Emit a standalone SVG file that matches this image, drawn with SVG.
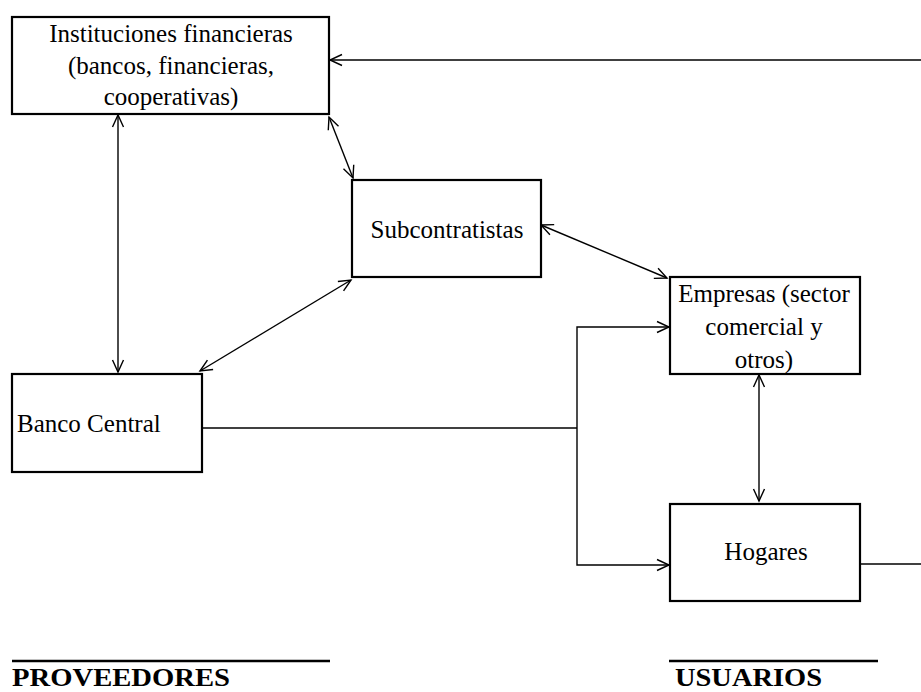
<svg xmlns="http://www.w3.org/2000/svg" width="921" height="692" viewBox="0 0 921 692">
<style>
.box{fill:#fff;stroke:#000;stroke-width:2.2}
.t{font-family:"Liberation Serif",serif;font-size:25px;fill:#000}
.c{text-anchor:middle}
.b{font-family:"Liberation Serif",serif;font-weight:bold;font-size:25px;fill:#000}
.ln{fill:none;stroke:#000;stroke-width:1.4}
.rule{stroke:#000;stroke-width:2.4}
</style>
<defs>
<marker id="ah" viewBox="-14 -7 16 14" refX="0" refY="0" markerWidth="16" markerHeight="14" markerUnits="userSpaceOnUse" orient="auto-start-reverse">
<path d="M-12,-5.5 L0,0 L-12,5.5" fill="none" stroke="#000" stroke-width="1.4"/>
</marker>
</defs>
<g id="connectors">
<line class="ln" x1="921" y1="60" x2="330" y2="60" marker-end="url(#ah)"/>
<line class="ln" x1="118" y1="115" x2="118" y2="372" marker-start="url(#ah)" marker-end="url(#ah)"/>
<line class="ln" x1="329" y1="117" x2="353" y2="178" marker-start="url(#ah)" marker-end="url(#ah)"/>
<line class="ln" x1="541" y1="225" x2="667" y2="278" marker-start="url(#ah)" marker-end="url(#ah)"/>
<line class="ln" x1="200" y1="371" x2="351" y2="280" marker-start="url(#ah)" marker-end="url(#ah)"/>
<polyline class="ln" points="202,428 577,428"/>
<polyline class="ln" points="669,327 577,327 577,565 669,565" marker-start="url(#ah)" marker-end="url(#ah)"/>
<line class="ln" x1="759" y1="375" x2="759" y2="501" marker-start="url(#ah)" marker-end="url(#ah)"/>
<line class="ln" x1="860" y1="564" x2="921" y2="564"/>
</g>
<g id="instituciones">
<rect class="box" x="12" y="17" width="317" height="97"/>
<text class="t c" x="171" y="42">Instituciones financieras</text>
<text class="t c" x="171" y="74">(bancos, financieras,</text>
<text class="t c" x="171" y="105">cooperativas)</text>
</g>
<g id="subcontratistas">
<rect class="box" x="352" y="180" width="189" height="97"/>
<text class="t c" x="447" y="238">Subcontratistas</text>
</g>
<g id="empresas">
<rect class="box" x="670" y="277" width="190" height="97"/>
<text class="t c" x="764" y="302">Empresas (sector</text>
<text class="t c" x="764" y="335">comercial y</text>
<text class="t c" x="764" y="368">otros)</text>
</g>
<g id="banco-central">
<rect class="box" x="12" y="374" width="190" height="98"/>
<text class="t" x="17" y="432">Banco Central</text>
</g>
<g id="hogares">
<rect class="box" x="670" y="504" width="190" height="97"/>
<text class="t c" x="766" y="560">Hogares</text>
</g>
<g id="proveedores">
<line class="rule" x1="12" y1="661" x2="330" y2="661"/>
<text class="b" x="12" y="686" textLength="218" lengthAdjust="spacingAndGlyphs">PROVEEDORES</text>
</g>
<g id="usuarios">
<line class="rule" x1="669" y1="661" x2="878" y2="661"/>
<text class="b" x="675" y="686" textLength="147" lengthAdjust="spacingAndGlyphs">USUARIOS</text>
</g>
</svg>
